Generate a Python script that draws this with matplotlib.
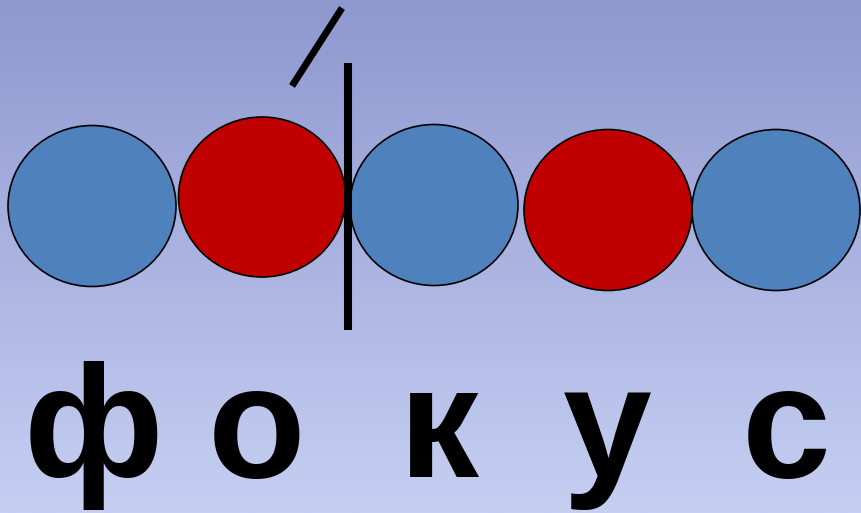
import numpy as np
import matplotlib.pyplot as plt
from matplotlib.patches import Ellipse

# слово и звуки
letters = ['ф', 'о', 'к', 'у', 'с']
letter_x = [93, 257, 439, 607, 786]
sound_kind = ['согл', 'гл', 'согл', 'гл', 'согл']
circle_x = [92, 262, 434, 608, 776]
circle_y = [206, 197, 205, 210, 210]
circle_w = [168, 167, 168, 168, 168]
circle_h = [161, 160, 161, 161, 161]
colors = {'согл': '#4F81BD', 'гл': '#C00000'}

W, H = 861, 513
fig = plt.figure(figsize=(W / 100, H / 100), dpi=100)
ax = fig.add_axes([0, 0, 1, 1])
ax.set_xlim(0, W)
ax.set_ylim(H, 0)
ax.axis('off')

# фон - градиент
top = np.array([143, 152, 207]) / 255
bottom = np.array([198, 207, 242]) / 255
t = np.linspace(0, 1, 256)[:, None]
grad = top + (bottom - top) * t
ax.imshow(grad[:, None, :], extent=[0, W, H, 0], aspect='auto', zorder=0)

for x, y, w, h, k in zip(circle_x, circle_y, circle_w, circle_h, sound_kind):
    ax.add_patch(Ellipse((x, y), w, h, facecolor=colors[k], edgecolor='black',
                         linewidth=1.2, zorder=2))

# слогораздел и ударение
ax.plot([348, 348], [63, 330], color='black', linewidth=5.8, solid_capstyle='butt', zorder=3)
ax.plot([292, 342], [86, 8], color='black', linewidth=5, solid_capstyle='butt', zorder=3)

for ch, x in zip(letters, letter_x):
    ax.text(x, 477, ch, fontsize=115, fontweight='bold', family='Liberation Sans',
            ha='center', va='baseline', color='black', zorder=3)

fig.savefig('out.png', dpi=100)
